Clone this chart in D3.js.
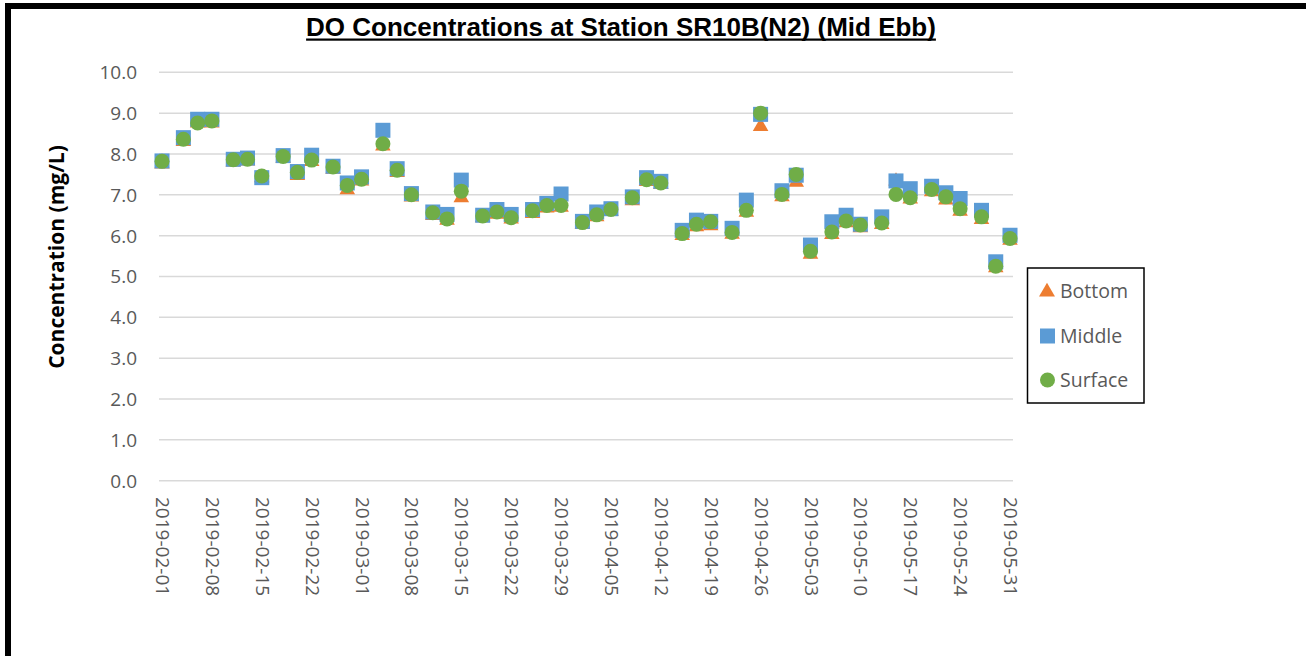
<!DOCTYPE html>
<html>
<head>
<meta charset="utf-8">
<script src="https://cdn.jsdelivr.net/npm/d3@7"></script>
<style>
  html, body { margin: 0; padding: 0; background: #fff; }
  svg { display: block; }
</style>
</head>
<body>
<svg id="chart" width="1306" height="656"></svg>
<script>
const dates = ["2019-02-01","2019-02-04","2019-02-06","2019-02-08","2019-02-11","2019-02-13","2019-02-15","2019-02-18","2019-02-20","2019-02-22","2019-02-25","2019-02-27",
"2019-03-01","2019-03-04","2019-03-06","2019-03-08","2019-03-11","2019-03-13","2019-03-15","2019-03-18","2019-03-20","2019-03-22","2019-03-25","2019-03-27","2019-03-29",
"2019-04-01","2019-04-03","2019-04-05","2019-04-08","2019-04-10","2019-04-12","2019-04-15","2019-04-17","2019-04-19","2019-04-22","2019-04-24","2019-04-26","2019-04-29",
"2019-05-01","2019-05-03","2019-05-06","2019-05-08","2019-05-10","2019-05-13","2019-05-15","2019-05-17","2019-05-20","2019-05-22","2019-05-24","2019-05-27","2019-05-29","2019-05-31"];

const bottom = [7.78,8.33,8.78,8.78,7.83,7.85,7.44,7.92,7.50,7.84,7.65,7.15,
7.36,8.22,7.57,6.97,6.52,6.40,6.95,6.46,6.55,6.43,6.57,6.70,6.72,
6.30,6.49,6.62,6.88,7.35,7.28,6.03,6.24,6.27,6.06,6.60,8.70,6.98,
7.33,5.57,6.05,6.34,6.22,6.30,7.36,6.92,7.10,6.90,6.62,6.42,5.24,5.91];

const middle = [7.83,8.40,8.85,8.85,7.87,7.90,7.42,7.96,7.57,7.97,7.70,7.29,
7.44,8.58,7.64,7.03,6.58,6.52,7.36,6.50,6.64,6.52,6.64,6.79,7.02,
6.35,6.58,6.66,6.95,7.42,7.33,6.13,6.38,6.35,6.18,6.87,8.97,7.10,
7.48,5.77,6.34,6.50,6.28,6.46,7.34,7.15,7.21,7.05,6.91,6.62,5.36,6.01];

const surface = [7.82,8.36,8.76,8.81,7.86,7.87,7.46,7.94,7.55,7.85,7.68,7.23,
7.38,8.25,7.60,7.00,6.56,6.41,7.09,6.48,6.58,6.44,6.61,6.74,6.74,
6.32,6.51,6.64,6.93,7.37,7.29,6.05,6.28,6.34,6.08,6.62,9.00,7.01,
7.50,5.62,6.09,6.36,6.26,6.31,7.01,6.93,7.13,6.95,6.66,6.46,5.25,5.93];

const xTickLabels = ["2019-02-01","2019-02-08","2019-02-15","2019-02-22","2019-03-01","2019-03-08","2019-03-15","2019-03-22","2019-03-29","2019-04-05","2019-04-12","2019-04-19","2019-04-26","2019-05-03","2019-05-10","2019-05-17","2019-05-24","2019-05-31"];
const yTicks = [0,1,2,3,4,5,6,7,8,9,10];

const seriesNames = ["Bottom","Middle","Surface"];
const seriesColors = ["#ED7D31","#5B9BD5","#70AD47"];
const title = "DO Concentrations at Station SR10B(N2) (Mid Ebb)";
const yTitle = "Concentration (mg/L)";

const parse = d3.utcParse("%Y-%m-%d");
const svg = d3.select("#chart");

// frame
svg.append("rect").attr("x",5).attr("y",3).attr("width",1301).attr("height",6).attr("fill","#000");
svg.append("rect").attr("x",5).attr("y",3).attr("width",6).attr("height",653).attr("fill","#000");

const x = d3.scaleUtc().domain([parse("2019-02-01"), parse("2019-05-31")]).range([162, 1010]);
const y = d3.scaleLinear().domain([0,10]).range([480.7, 72.3]);

// gridlines
svg.append("g").selectAll("line").data(yTicks).join("line")
  .attr("x1", 159).attr("x2", 1013)
  .attr("y1", d => y(d)).attr("y2", d => y(d))
  .attr("stroke", "#d9d9d9").attr("stroke-width", 1.5);

// y axis labels
const yAxis = d3.axisLeft(y).tickValues(yTicks).tickFormat(d3.format(".1f")).tickSize(0).tickPadding(0);
const gy = svg.append("g").attr("transform","translate(137,0)").call(yAxis);
gy.select(".domain").remove();
gy.selectAll("text").attr("font-family","'Open Sans', sans-serif").attr("font-size","19px").attr("fill","#595959").attr("dy","0.34em");

// x axis labels
const xAxis = d3.axisBottom(x).tickValues(xTickLabels.map(parse)).tickFormat(d3.utcFormat("%Y-%m-%d")).tickSize(0).tickPadding(0);
const gx = svg.append("g").attr("transform","translate(0,497)").call(xAxis);
gx.select(".domain").remove();
gx.selectAll("text")
  .attr("font-family","'Open Sans', sans-serif").attr("font-size","19px").attr("fill","#595959")
  .attr("text-anchor","start").attr("dy","0.34em").attr("y",0)
  .attr("transform","rotate(90)");

// markers
const tri = d3.symbol().type(d3.symbolTriangle).size(105);
const allSeries = [bottom, middle, surface];
allSeries.forEach((vals, si) => {
  const g = svg.append("g");
  const data = dates.map((d,i) => ({x: x(parse(d)), y: y(vals[i])}));
  if (si === 0) {
    g.selectAll("path").data(data).join("path")
      .attr("d", tri).attr("transform", d => `translate(${d.x},${d.y + 1})`).attr("fill", seriesColors[0]);
  } else if (si === 1) {
    g.selectAll("rect").data(data).join("rect")
      .attr("x", d => d.x - 7.5).attr("y", d => d.y - 7.5).attr("width", 15).attr("height", 15)
      .attr("fill", seriesColors[1]);
  } else {
    g.selectAll("circle").data(data).join("circle")
      .attr("cx", d => d.x).attr("cy", d => d.y).attr("r", 7.5).attr("fill", seriesColors[2]);
  }
});

// title
const t = svg.append("text").attr("x", 621).attr("y", 36).attr("text-anchor","middle")
  .attr("font-family","Liberation Sans").attr("font-weight","bold").attr("font-size","24px")
  .attr("fill","#000").text(title);
let bb = t.node().getBBox();
const fitSize = 24 * 650 / bb.width;
t.attr("font-size", Math.min(fitSize, 26) + "px");
bb = t.node().getBBox();
svg.append("rect").attr("x", bb.x).attr("y", 38.5).attr("width", bb.width).attr("height", 2.2).attr("fill","#000");

// y title
svg.append("text").attr("transform","translate(64,257) rotate(-90)").attr("text-anchor","middle")
  .attr("font-family","'Open Sans', sans-serif").attr("font-weight","bold").attr("font-size","21px")
  .attr("fill","#000").text(yTitle);

// legend
const lg = svg.append("g");
lg.append("rect").attr("x",1027.5).attr("y",268).attr("width",116.5).attr("height",135)
  .attr("fill","#fff").attr("stroke","#000").attr("stroke-width",1.5);
const legY = [291, 336, 380];
seriesNames.forEach((name, i) => {
  const cy = legY[i];
  if (i === 0) {
    lg.append("path").attr("d", d3.symbol().type(d3.symbolTriangle).size(110)).attr("transform",`translate(1047,${cy+1})`).attr("fill",seriesColors[0]);
  } else if (i === 1) {
    lg.append("rect").attr("x",1040).attr("y",cy-7.5).attr("width",15).attr("height",15).attr("fill",seriesColors[1]);
  } else {
    lg.append("circle").attr("cx",1047.5).attr("cy",cy).attr("r",7.5).attr("fill",seriesColors[2]);
  }
  lg.append("text").attr("x",1060).attr("y",cy).attr("dy","0.35em")
    .attr("font-family","'Open Sans', sans-serif").attr("font-size","19.5px").attr("fill","#595959").text(name);
});
</script>
</body>
</html>
